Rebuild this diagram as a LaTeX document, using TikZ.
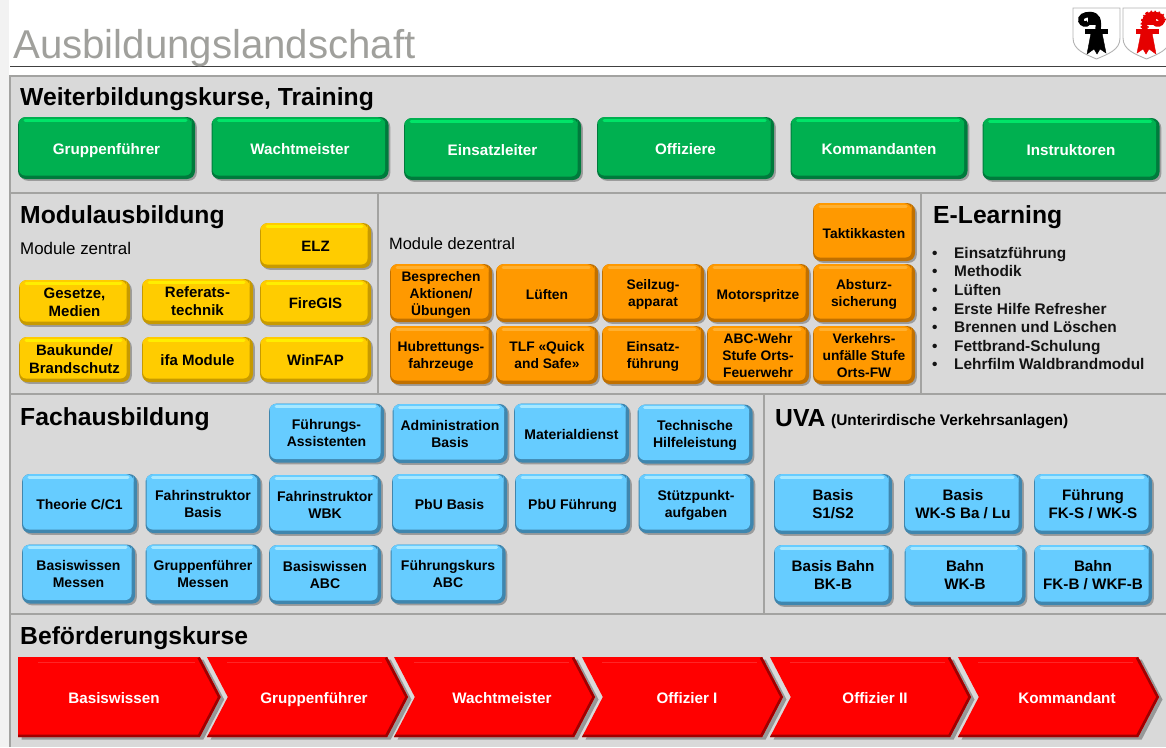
\documentclass[tikz,border=0pt]{standalone}
\usepackage{fontspec}
\setmainfont{Liberation Sans}
\usetikzlibrary{shapes.symbols,shadows}
\definecolor{panelgray}{HTML}{D9D9D9}
\definecolor{panelline}{HTML}{A3A3A1}
\definecolor{titlegray}{HTML}{A0A09C}
\definecolor{grnmain}{HTML}{00B050}
\definecolor{grnlight}{HTML}{00E468}
\definecolor{grndark}{HTML}{007A3C}
\definecolor{yelmain}{HTML}{FFCC00}
\definecolor{yellight}{HTML}{FFEE00}
\definecolor{yeldark}{HTML}{C79A00}
\definecolor{ormain}{HTML}{FF9900}
\definecolor{orlight}{HTML}{FFB030}
\definecolor{ordark}{HTML}{C07000}
\definecolor{blumain}{HTML}{66CCFF}
\definecolor{blulight}{HTML}{A8E8FF}
\definecolor{bludark}{HTML}{3F86AE}
\newcommand{\fsz}[2]{\fontsize{#1}{#2}\selectfont}
\newcommand{\btntop}{\rule{0pt}{12pt}}
\tikzset{
  btn/.style n args={3}{rectangle,rounded corners=8pt,fill=#3,inner sep=0pt,align=center,
    execute at begin node=\btntop,text depth=0pt,
    drop shadow={shadow xshift=1.8pt,shadow yshift=-1.8pt,fill=black,opacity=.28},
    path picture={
      \fill[#1] ([yshift=-10pt]path picture bounding box.north west) rectangle ([xshift=-3.5pt]path picture bounding box.north east);
      \fill[#1,rounded corners=6pt] ([shift={(1pt,3.5pt)}]path picture bounding box.south west)
        rectangle ([shift={(-3.5pt,-1pt)}]path picture bounding box.north east);
      \draw[#2,line width=3pt,line cap=round] ([shift={(7pt,-3.2pt)}]path picture bounding box.north west)
        -- ([shift={(-9pt,-3.2pt)}]path picture bounding box.north east);
    }},
  greenbtn/.style={btn={grnmain}{grnlight}{grndark},minimum width=177pt,minimum height=62pt,
    text=white,font=\fsz{15.2}{18}\bfseries},
  yellowbtn/.style={btn={yelmain}{yellight}{yeldark},minimum width=111pt,minimum height=45pt,
    font=\fsz{15}{18}\bfseries},
  orangebtn/.style={btn={ormain}{orlight}{ordark},minimum width=102pt,minimum height=58pt,
    font=\fsz{13.8}{17}\bfseries},
  bluebtn/.style={btn={blumain}{blulight}{bludark},minimum width=115pt,minimum height=59pt,
    font=\fsz{14}{17}\bfseries},
  uvabtn/.style={btn={blumain}{blulight}{bludark},minimum width=118pt,minimum height=60pt,
    font=\fsz{15.2}{18}\bfseries},
  redarrow/.style={signal,signal to=east,signal from=west,signal pointer angle=125,
    minimum width=201pt,minimum height=80pt,inner sep=0pt,fill=red,text=white,font=\fsz{15.2}{18}\bfseries,
    execute at begin node=\btntop,text depth=0pt,
    drop shadow={shadow xshift=3.5pt,shadow yshift=-2.5pt,fill=black,opacity=.3},
    path picture={
      \draw[red!62!black,line width=5pt] ([xshift=-21pt]path picture bounding box.north east)
        -- (path picture bounding box.east) -- ([xshift=-21pt]path picture bounding box.south east)
        -- (path picture bounding box.south west);
      \draw[red!70!white,opacity=.5,line width=.8pt] ([shift={(20pt,-5pt)}]path picture bounding box.north west)
        -- ([shift={(-26pt,-5pt)}]path picture bounding box.north east);
    }},
  heading/.style={anchor=base west,inner sep=0pt,font=\fsz{24.7}{28}\bfseries},
  subhead/.style={anchor=base west,inner sep=0pt,font=\fsz{16.9}{20}},
  listitem/.style={anchor=base west,inner sep=0pt,font=\fsz{15.4}{18}\bfseries,text=black!92},
  arms/.pic={
    \fill[white] (0,0) -- (47,0) -- (47,30) .. controls (47,42) and (35,46) .. (23.5,51)
      .. controls (12,46) and (0,42) .. (0,30) -- cycle;
    \draw[black!30,line width=.9pt] (0,30) -- (0,0) -- (47,0) -- (47,30) .. controls (47,42) and (35,46) .. (23.5,51)
      .. controls (12,46) and (0,42) .. (0,30);
    \draw[pic actions,fill=none,line width=5.5pt] (25,22) .. controls (26,12) and (25,7) .. (17,6.5)
      .. controls (11,6.5) and (7,9) .. (8,13) .. controls (9,16) and (13,17) .. (15,15);
    \fill[pic actions] (15,8) rectangle (23,16);
    \fill[pic actions] (12,21) rectangle (34,25);
    \fill[pic actions] (18,25) -- (29,25) -- (33,45) -- (27,41) -- (24,46) -- (21,41) -- (14,46) -- cycle;
  }
}
\begin{document}
\begin{tikzpicture}[x=1pt,y=-1pt]
  \useasboundingbox (0,0) rectangle (1166,747);
  % panels
  \fill[black!5] (0,0) rectangle (9,747);
  \fill[panelgray] (10,76) rectangle (1166,747);
  \draw[panelline,line width=1.2pt] (1166,76) -- (10,76) -- (10,747);
  \draw[panelline,line width=1.2pt] (10,193) -- (1166,193);
  \draw[panelline,line width=1.2pt] (10,394) -- (1166,394);
  \draw[panelline,line width=1.2pt] (10,614) -- (1166,614);
  \draw[panelline,line width=1.2pt] (378,193) -- (378,394);
  \draw[panelline,line width=1.2pt] (921,193) -- (921,394);
  \draw[panelline,line width=1.2pt] (764,394) -- (764,614);
  \draw[black!75,line width=.9pt] (10,66.5) -- (1166,66.5);
  % title and arms
  \node[anchor=base west,inner sep=0pt,text=titlegray,font=\fsz{40.2}{46}] (title) at (13,58.5) {Ausbildungslandschaft};
  \pic[draw=black,fill=black] at (1073,8) {arms};
  \pic[xscale=-1,draw=red!90!black,fill=red!90!black] at (1170,8) {arms};
  \draw[red!90!black,line width=8pt,dash pattern=on 1.6pt off 1.6pt] (1145,31) .. controls (1144,20) and (1145,15) .. (1153,14.5)
    .. controls (1159,14.5) and (1163,17) .. (1162,21);
  % Weiterbildung
  \node[heading] (weiter) at (20,105) {Weiterbildungskurse, Training};
  \node[greenbtn] (grp) at (106.5,148) {Gruppenführer};
  \node[greenbtn] (wacht) at (300,148) {Wachtmeister};
  \node[greenbtn] (einsatz) at (492.5,149) {Einsatzleiter};
  \node[greenbtn] (offz) at (685.5,148) {Offiziere};
  \node[greenbtn] (komm) at (879,148) {Kommandanten};
  \node[greenbtn] (instr) at (1071,149) {Instruktoren};
  % Modulausbildung
  \node[heading] (modul) at (20,223) {Modulausbildung};
  \node[subhead] (zentral) at (20,254) {Module zentral};
  \node[yellowbtn] (elz) at (315.5,245.5) {ELZ};
  \node[yellowbtn] (gesetze) at (74.5,302.5) {Gesetze,\\Medien};
  \node[yellowbtn] (referat) at (197.5,301.5) {Referats-\\technik};
  \node[yellowbtn] (firegis) at (315.5,302.5) {FireGIS};
  \node[yellowbtn] (baukunde) at (74.5,359.5) {Baukunde/\\Brandschutz};
  \node[yellowbtn] (ifa) at (197.5,359.5) {ifa Module};
  \node[yellowbtn] (winfap) at (315.5,359.5) {WinFAP};
  \node[subhead,font=\fsz{16.4}{20}] (dezentral) at (389,249) {Module dezentral};
  \node[orangebtn] (taktik) at (864,232) {Taktikkasten};
  \node[orangebtn] (bespr) at (441,293) {Besprechen\\Aktionen/\\Übungen};
  \node[orangebtn] (lueften) at (547,293) {Lüften};
  \node[orangebtn] (seilzug) at (653,293) {Seilzug-\\apparat};
  \node[orangebtn] (motor) at (758,293) {Motorspritze};
  \node[orangebtn] (absturz) at (864,293) {Absturz-\\sicherung};
  \node[orangebtn] (hubrett) at (441,355) {Hubrettungs-\\fahrzeuge};
  \node[orangebtn] (tlf) at (547,355) {TLF «Quick\\and Safe»};
  \node[orangebtn] (einsfhr) at (653,355) {Einsatz-\\führung};
  \node[orangebtn] (abc) at (758,355) {ABC-Wehr\\Stufe  Orts-\\Feuerwehr};
  \node[orangebtn] (verkehr) at (864,355) {Verkehrs-\\unfälle Stufe\\Orts-FW};
  % E-Learning
  \node[heading] (elearn) at (933,223) {E-Learning};
  \foreach \ypos/\itemname/\itemtext in {258/a/Einsatzführung,276.5/b/Methodik,295/c/Lüften,314/d/Erste Hilfe Refresher,332.5/e/Brennen und Löschen,351/f/Fettbrand-Schulung,369.5/g/Lehrfilm Waldbrandmodul} {
    \node[listitem] (bul\itemname) at (932,\ypos) {•};
    \node[listitem] (item\itemname) at (954,\ypos) {\itemtext};
  }
  % Fachausbildung
  \node[heading] (fach) at (20,425) {Fachausbildung};
  \node[bluebtn] (fassist) at (326.5,433) {Führungs-\\Assistenten};
  \node[bluebtn] (admin) at (450,433.5) {Administration\\Basis};
  \node[bluebtn] (material) at (571.5,433) {Materialdienst};
  \node[bluebtn] (technik) at (695,434) {Technische\\Hilfeleistung};
  \node[bluebtn] (theorie) at (79.5,503.5) {Theorie C/C1};
  \node[bluebtn] (fibasis) at (203,503.5) {Fahrinstruktor\\Basis};
  \node[bluebtn,minimum width=112pt] (fiwbk) at (325,504.5) {Fahrinstruktor\\WBK};
  \node[bluebtn] (pbub) at (449.5,503.5) {PbU Basis};
  \node[bluebtn] (pbuf) at (572.5,503.5) {PbU Führung};
  \node[bluebtn] (stuetz) at (696,503.5) {Stützpunkt-\\aufgaben};
  \node[bluebtn,minimum width=113pt] (bwm) at (78.5,574) {Basiswissen\\Messen};
  \node[bluebtn] (gfm) at (203,574) {Gruppenführer\\Messen};
  \node[bluebtn,minimum width=112pt] (bwabc) at (325,574.5) {Basiswissen\\ABC};
  \node[bluebtn] (fkabc) at (448,574) {Führungskurs\\ABC};
  % UVA
  \node[heading] (uva) at (775,426) {UVA};
  \node[anchor=base west,inner sep=0pt,font=\fsz{15.4}{18}\bfseries] (uvalong) at (831,425) {(Unterirdische Verkehrsanlagen)};
  \node[uvabtn] (us1) at (833,504) {Basis\\S1/S2};
  \node[uvabtn] (uwks) at (963,504) {Basis\\WK-S Ba / Lu};
  \node[uvabtn] (ufks) at (1093,504) {Führung\\FK-S / WK-S};
  \node[uvabtn] (ubk) at (833,575) {Basis Bahn\\BK-B};
  \node[uvabtn,minimum width=121pt] (uwkb) at (965,575) {Bahn\\WK-B};
  \node[uvabtn] (ufkb) at (1093,575) {Bahn\\FK-B / WKF-B};
  % Befoerderung
  \node[heading] (befoer) at (20,644) {Beförderungskurse};
  \node[redarrow,signal from=nowhere,minimum width=202.5pt] (rbasis) at (109,697) {\hspace*{10pt}Basiswissen};
  \node[redarrow] (rgrp) at (307.5,697) {\hspace*{13pt}Gruppenführer};
  \node[redarrow] (rwacht) at (494.5,697) {\hspace*{15pt}Wachtmeister};
  \node[redarrow] (roff1) at (682.5,697) {\hspace*{9pt}Offizier I};
  \node[redarrow] (roff2) at (870.5,697) {\hspace*{9pt}Offizier II};
  \node[redarrow] (rkomm) at (1058.5,697) {\hspace*{17pt}Kommandant};
\end{tikzpicture}
\end{document}
